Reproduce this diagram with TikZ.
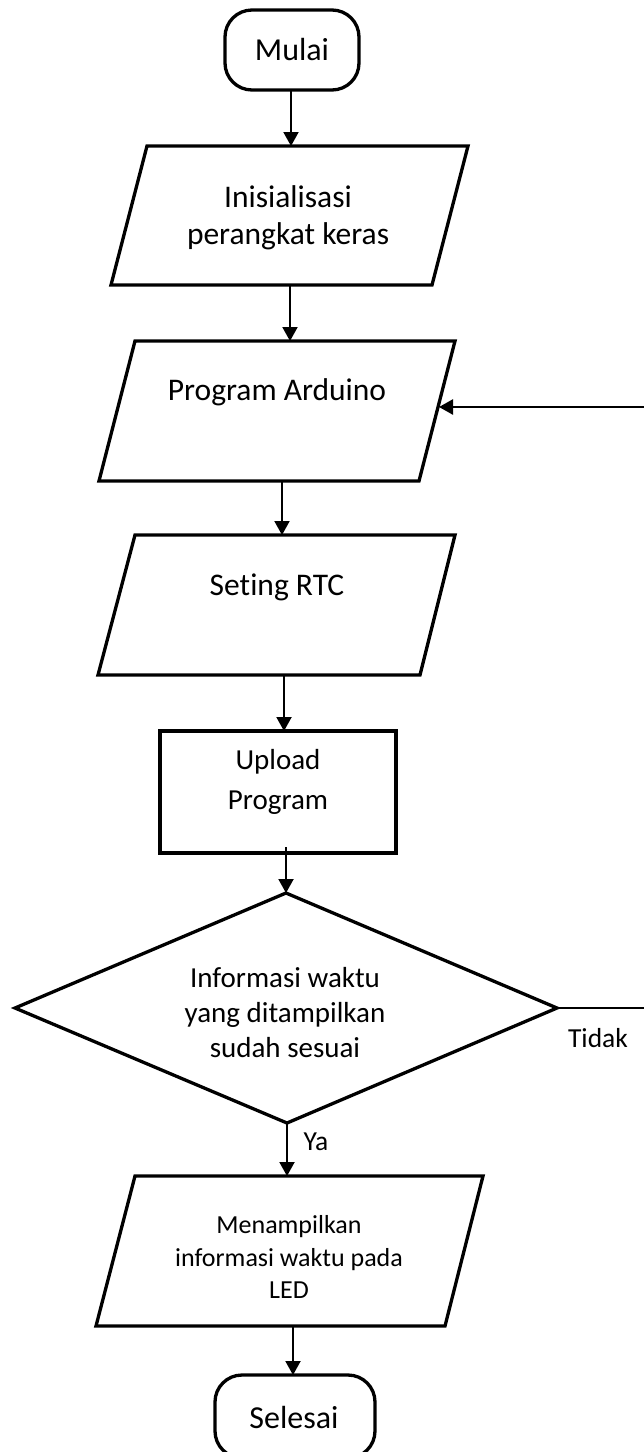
\documentclass[tikz,border=0pt]{standalone}
\usepackage{fontspec}
\setmainfont{Carlito}[Ligatures=NoCommon]
\usetikzlibrary{arrows.meta}
\begin{document}
\begin{tikzpicture}[x=1pt,y=-1pt,
  shapeline/.style={line width=3.3pt, line join=miter},
  arr/.style={line width=2pt, -{Triangle[length=14pt,width=15pt]}},
  lbl/.style={inner sep=0pt, align=center, text=black},
  big/.style={font=\fontsize{31.5}{37}\selectfont},
]
\useasboundingbox (0,0) rectangle (644,1452);

% ---- shapes ----
% Mulai (terminal)
\draw[shapeline, rounded corners=27pt] (225,10) rectangle (359,90);
\node[lbl, font=\fontsize{32}{38}\selectfont] (mulai) at (292,50) {Mulai};
\coordinate (mulai-b) at (291,90);

% Inisialisasi
\draw[shapeline] (147,146) -- (468,146) -- (432,285) -- (111,285) -- cycle;
\node[lbl, big] (ini) at (288,218) {Inisialisasi\\perangkat keras};
\coordinate (ini-t) at (291,146);
\coordinate (ini-b) at (290,285);

% Program Arduino
\draw[shapeline] (135,341) -- (455,341) -- (419,481) -- (99,481) -- cycle;
\node[lbl, big] (pa) at (277,392) {Program Arduino};
\coordinate (pa-t) at (290,341);
\coordinate (pa-b) at (282,481);
\coordinate (pa-r) at (439,407);

% Seting RTC
\draw[shapeline] (135,535) -- (455,535) -- (420,675) -- (98,675) -- cycle;
\node[lbl, big] (rtc) at (277,587) {Seting RTC};
\coordinate (rtc-t) at (282,535);
\coordinate (rtc-b) at (284,675);

% Upload Program
\draw[shapeline] (160,731) rectangle (396,853);
\node[lbl, font=\fontsize{29}{40}\selectfont] (up) at (278,782) {Upload\\Program};
\coordinate (up-t) at (284,731);
\coordinate (up-b) at (286,847);

% Decision
\draw[shapeline] (286,893) -- (557,1008) -- (287,1123) -- (15,1008) -- cycle;
\node[lbl, font=\fontsize{29}{35}\selectfont] (dec) at (285,1013) {Informasi waktu\\yang ditampilkan\\sudah sesuai};
\coordinate (dec-t) at (286,893);
\coordinate (dec-b) at (287,1123);
\coordinate (dec-r) at (557,1008);

% Menampilkan
\draw[shapeline] (135,1176) -- (483,1176) -- (445,1326) -- (96,1326) -- cycle;
\node[lbl, font=\fontsize{26}{32.5}\selectfont] (led) at (289,1257) {Menampilkan\\informasi waktu pada\\LED};
\coordinate (led-t) at (287,1176);
\coordinate (led-b) at (293,1326);

% Selesai (terminal)
\draw[shapeline, rounded corners=27pt] (215,1375) rectangle (375,1458);
\node[lbl, font=\fontsize{32}{38}\selectfont] (sel) at (294,1417) {Selesai};
\coordinate (sel-t) at (293,1375);

% feedback ends (off the right edge)
\coordinate (fb-low) at (650,1008);
\coordinate (fb-high) at (650,407);

% ---- connectors ----
\draw[arr] (mulai-b) -- (ini-t);
\draw[arr] (ini-b) -- (pa-t);
\draw[arr] (pa-b) -- (rtc-t);
\draw[arr] (rtc-b) -- (up-t);
\draw[arr] (up-b) -- (dec-t);
\draw[arr] (dec-b) -- (led-t);
\draw[arr] (led-b) -- (sel-t);
\draw[line width=1.3pt] (dec-r) -- (fb-low);
\draw[line width=2.5pt, -{Triangle[length=14pt,width=15pt]}] (fb-high) -- (pa-r);

% ---- labels ----
\node[lbl, font=\fontsize{27.5}{33}\selectfont] (tidak) at (598,1038) {Tidak};
\node[lbl, font=\fontsize{27.5}{33}\selectfont] (ya) at (316,1142) {Ya};
\end{tikzpicture}
\end{document}
